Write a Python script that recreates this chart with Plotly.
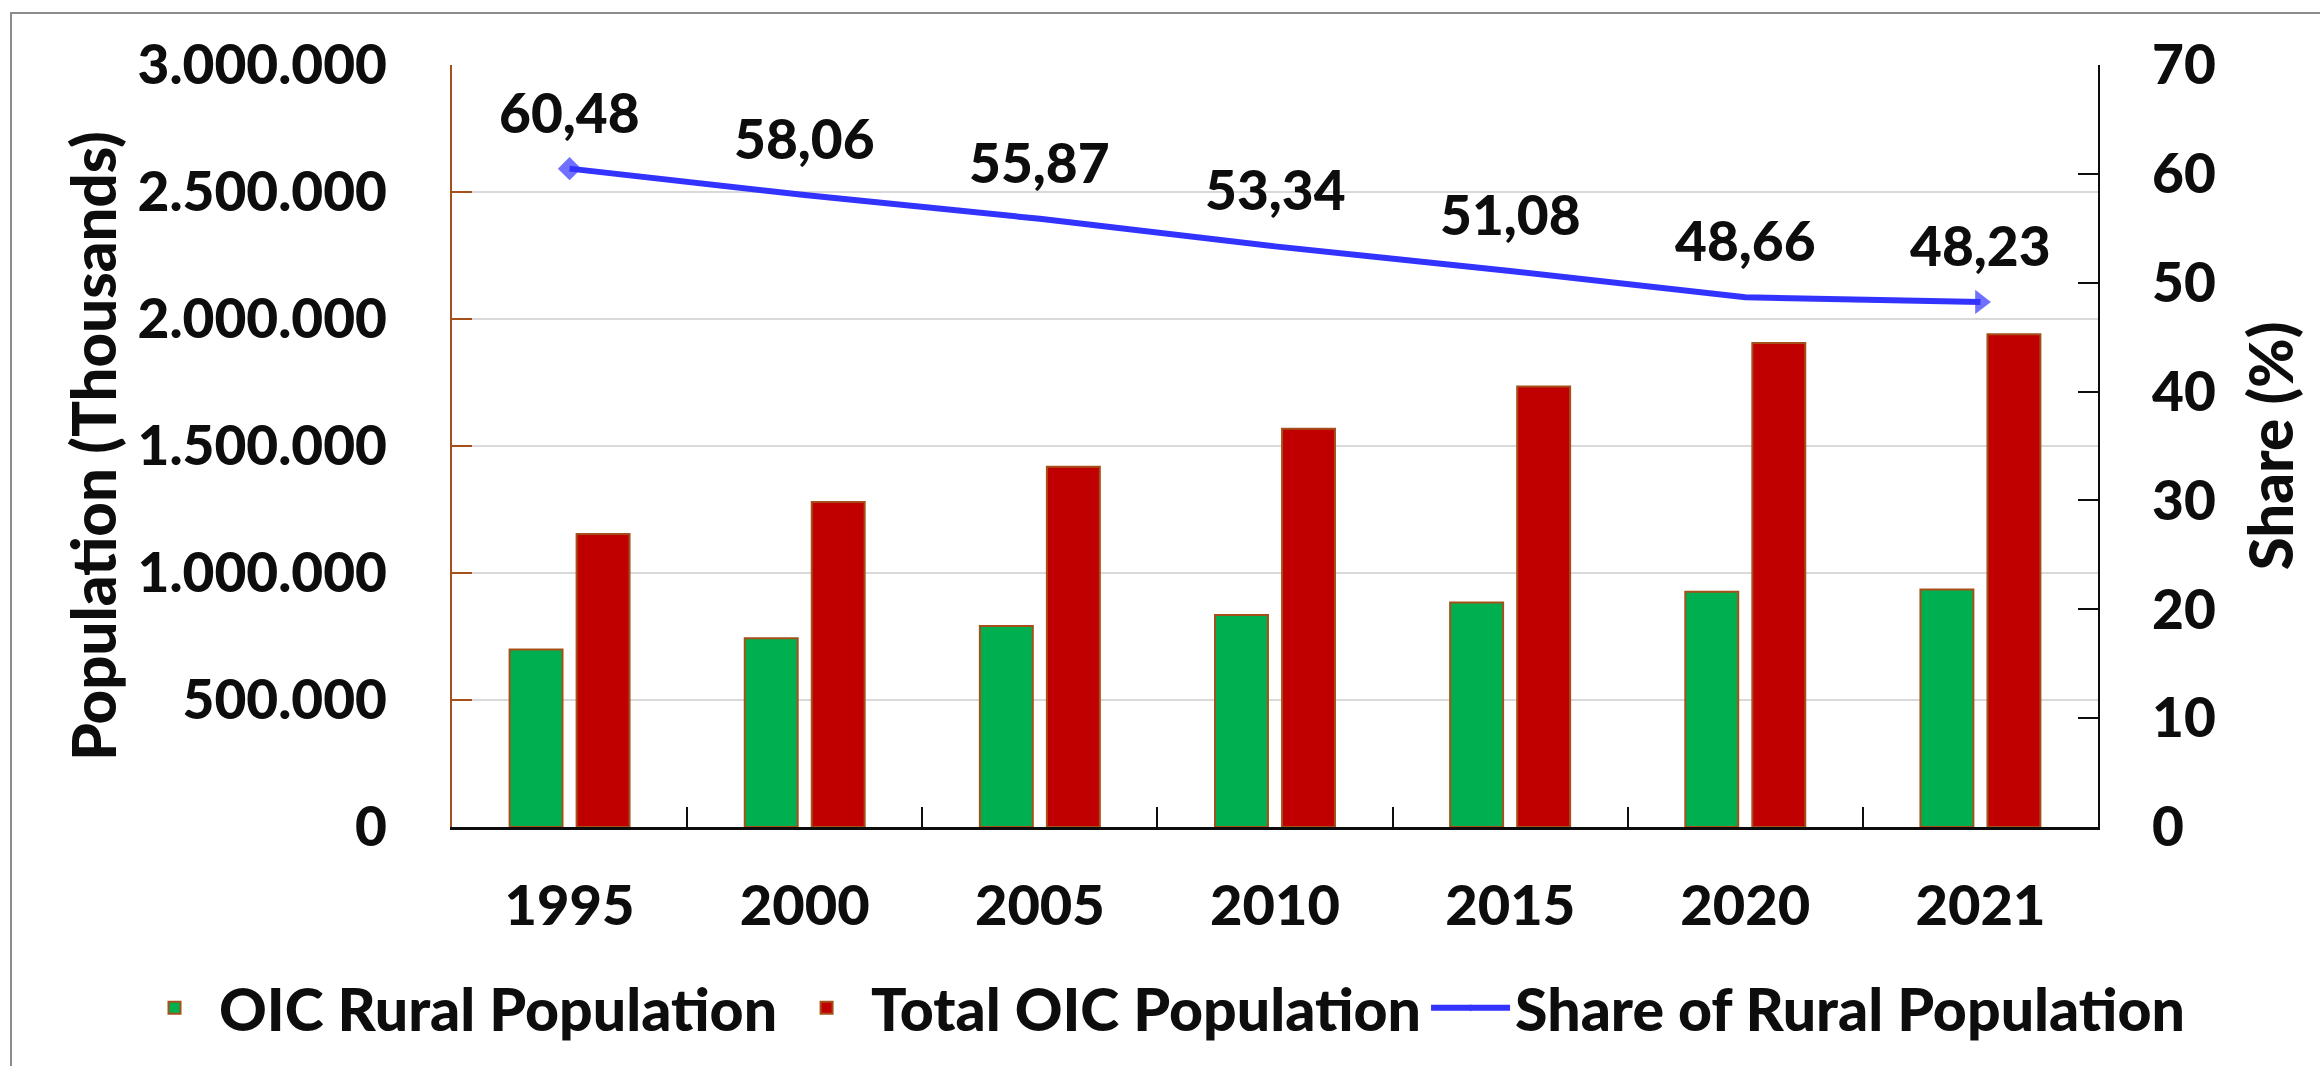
import plotly.graph_objects as go

# ---- data ----
years = ["1995", "2000", "2005", "2010", "2015", "2020", "2021"]
rural_pop = [699000, 743000, 791000, 835000, 884000, 926000, 935000]
total_pop = [1154000, 1280000, 1418000, 1568000, 1734000, 1906000, 1940000]
rural_share = [60.48, 58.06, 55.87, 53.34, 51.08, 48.66, 48.23]
left_ticks = [0, 500000, 1000000, 1500000, 2000000, 2500000, 3000000]
right_ticks = [0, 10, 20, 30, 40, 50, 60, 70]

# ---- styling ----
W, H = 2320, 1066
L, R, T, B = 452, 222, 65, 239
PW, PH = W - L - R, H - T - B
FONT = "Lato"
WGT = 900
TXT = "#0D0D0D"
EDGE = "#A5501A"
FS = 55

def px_x(p):
    return (p - L) / PW

def px_y(p):
    return (H - B - p) / PH

def fnt(size=FS):
    return dict(family=FONT, size=size, color=TXT, weight=WGT)

fig = go.Figure()
fig.add_trace(go.Bar(
    x=years, y=rural_pop, name="OIC Rural Population",
    marker=dict(color="#00B050", line=dict(color=EDGE, width=2)),
))
fig.add_trace(go.Bar(
    x=years, y=total_pop, name="Total OIC Population",
    marker=dict(color="#C00000", line=dict(color=EDGE, width=2)),
))
n = len(years)
sym = ["diamond"] + ["circle"] * (n - 2) + ["triangle-right"]
msz = [18] + [0] * (n - 2) + [21]
fig.add_trace(go.Scatter(
    x=years, y=rural_share, yaxis="y2", name="Share of Rural Population",
    mode="lines+markers",
    line=dict(color="#3333FF", width=6),
    marker=dict(color="#3333FF", symbol=sym, size=msz, line=dict(width=0)),
))

# data labels (category index positions on the category axis)
for i, v in enumerate(rural_share):
    fig.add_annotation(
        x=i, y=v, xref="x", yref="y2",
        text=f"{v:.2f}".replace(".", ","),
        showarrow=False, yanchor="bottom", yshift=22,
        font=fnt(),
    )

# outer frame
fig.add_shape(type="rect", xref="paper", yref="paper",
              x0=px_x(11), x1=px_x(2340), y0=px_y(1090), y1=px_y(13),
              line=dict(color="#8C8C8C", width=2), fillcolor="rgba(0,0,0,0)",
              layer="below")

fig.update_layout(
    width=W, height=H,
    margin=dict(l=L, r=R, t=T, b=B, autoexpand=False),
    paper_bgcolor="white", plot_bgcolor="white",
    separators=",.",
    font=fnt(),
    barmode="group", bargap=0.43, bargroupgap=0.21,
    showlegend=True,
    legend=dict(
        orientation="h", x=px_x(130), xanchor="left",
        y=px_y(1008), yanchor="middle",
        font=fnt(59),
        bgcolor="rgba(0,0,0,0)", itemwidth=79, tracegroupgap=0,
        traceorder="normal",
    ),
    xaxis=dict(
        type="category", tickson="boundaries",
        ticks="inside", ticklen=20, tickwidth=2, tickcolor=TXT,
        showline=True, linecolor=TXT, linewidth=3,
        showgrid=False, zeroline=False,
        ticklabelstandoff=28,
        tickfont=fnt(56),
    ),
    yaxis=dict(
        range=[0, 3000000], tickvals=left_ticks, tickformat=",.0f",
        ticks="inside", ticklen=20, tickwidth=2, tickcolor=EDGE,
        showline=True, linecolor=EDGE, linewidth=2,
        showgrid=True, gridcolor="#D9D9D9", gridwidth=2, zeroline=False,
        ticklabelstandoff=52,
        tickfont=fnt(),
        title=dict(text="Population (Thousands)", standoff=2, font=fnt(60)),
    ),
    yaxis2=dict(
        overlaying="y", side="right",
        range=[0, 70], tickvals=right_ticks,
        ticks="inside", ticklen=20, tickwidth=2, tickcolor=TXT,
        showline=True, linecolor=TXT, linewidth=2,
        showgrid=False, zeroline=False,
        ticklabelstandoff=41,
        tickfont=fnt(),
        title=dict(text="Share (%)", standoff=36, font=fnt(60)),
    ),
)

fig.write_html("out.html", config={"displayModeBar": False},
               post_script="document.body.style.margin='0px';")
